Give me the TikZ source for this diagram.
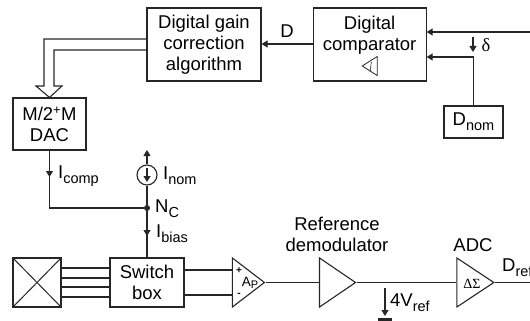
\documentclass[tikz,border=0pt]{standalone}
\usepackage{fontspec}
\setmainfont{Liberation Sans}
\newfontfamily\greekfont{Liberation Serif}
\usetikzlibrary{positioning,shapes.geometric,arrows.meta,calc}
\newcommand{\lowtext}[1]{\raisebox{-0.28em}{\fontsize{14.5}{14.5}\selectfont #1}}

\begin{document}
\begin{tikzpicture}[
    x=1pt, y=-1pt,
    % blocks and amplifiers
    box/.style={rectangle, draw=black!85, line width=1.1pt, inner sep=0pt, align=center,
                font=\fontsize{18.5}{21}\selectfont},
    amp/.style={isosceles triangle, isosceles triangle stretches, shape border rotate=0,
                draw=black!85, line width=1.1pt, inner sep=0pt, minimum width=49pt},
    lbl/.style={inner sep=0pt, font=\fontsize{18.5}{21}\selectfont},
    % wires
    wire/.style={line width=1.1pt, draw=black!85},
    arrow/.style={wire, -{Triangle[length=6pt,width=7pt]}},
    node distance=51pt
]
\useasboundingbox (0,0) rectangle (530,321);

% Top row
\node[box, minimum width=114pt, minimum height=73pt] (gain) at (204,44.5) {Digital gain\\correction\\algorithm};
\node[box, minimum width=113pt, minimum height=73pt, right=51pt of gain, text depth=22pt] (comp) {Digital\\comparator};
\node[box, minimum width=59pt, minimum height=32pt] (dnom) at (473.5,122) {D\lowtext{nom}};
\node[box, minimum width=73pt, minimum height=52pt] (dac) at (49.5,124) {M/2\textsuperscript{+}M\\DAC};

% small comparator symbol
\node[amp, minimum width=19pt, minimum height=15pt, shape border rotate=180, line width=0.8pt] (cmpsym) at (372,66) {};
\draw[wire, line width=0.6pt] (371.5,62) .. controls (370,66) and (371.5,69) .. (370,72);

% Bottom row
\node[box, minimum width=48pt, minimum height=49pt] (coil) at (37,282.5) {};
\node[box, minimum width=74pt, minimum height=49pt] (switch) at (147,282.5) {Switch\\box};
\node[amp, minimum height=32pt] (ap) at (244.5,282.5) {};
\node[amp, minimum height=36pt] (demod) at (332.5,282.5) {};
\node[amp, minimum height=37pt] (adc) at (470,282.5) {};

% Node N_C and current source
\node[circle, fill=black!85, inner sep=0pt, minimum size=6pt] (nc) at (147,208) {};
\node[circle, draw=black!85, line width=1.1pt, inner sep=0pt, minimum size=20pt] (inom) at (147,175) {};

% free ends
\coordinate (topin) at (530,32);
\coordinate (nomtop) at (147,150);
\coordinate (drefout) at (530,282.5);
\coordinate (deltatop) at (473,37);
\coordinate (deltaend) at (473,52);
\coordinate (vtop) at (385,288);
\coordinate (vend) at (385,316);
\node[rectangle, fill=black!85, inner sep=0pt, minimum width=14pt, minimum height=3pt] (vbar) at (385,319) {};

% Labels
\node[lbl] (dlabel) at (287,31) {D};
\node[lbl, anchor=west] (deltalabel) at (481.5,45) {\greekfont δ};
\node[lbl, anchor=west] (icomplabel) at (58,176) {I\lowtext{comp}};
\node[lbl, anchor=west] (inomlabel) at (163,176) {I\lowtext{nom}};
\node[lbl, anchor=west] (nclabel) at (155,209) {N\lowtext{C}};
\node[lbl, anchor=west] (ibiaslabel) at (156,234) {I\lowtext{bias}};
\node[lbl, align=center] (demodlabel) at (337,234.5) {Reference\\demodulator};
\node[lbl] (adclabel) at (473,245) {ADC};
\node[lbl, anchor=west] (dreflabel) at (502,268) {D\lowtext{ref}};
\node[lbl, anchor=west] (vlabel) at (390,303) {4V\lowtext{ref}};
\node[font=\fontsize{10}{10}\selectfont\bfseries, inner sep=0pt] (plus) at (239,271) {+};
\node[font=\fontsize{10}{10}\selectfont\bfseries, inner sep=0pt] (minus) at (239,294.5) {-};
\node[font=\fontsize{13.5}{13.5}\selectfont, inner sep=0pt] (aplabel) at (250,283) {A\raisebox{-0.2em}{\fontsize{11}{11}\selectfont P}};
\node[font=\fontsize{14}{14}\selectfont\greekfont, inner sep=0pt] (dslabel) at (472,283.5) {ΔΣ};

% Top connections
\draw[arrow] (comp.west |- 0,44) -- (gain.east |- 0,44);
\draw[arrow] (topin) -- (comp.east |- topin);
\draw[arrow] (dnom.north) |- (comp.east |- 0,57);
\draw[arrow] (deltatop) -- (deltaend);

% Hollow bus arrow
\draw[wire] (gain.west |- 0,39) -- (44,39) -- (44,86) -- (36,86) -- (dac.north) -- (62,86) -- (54,86) -- (54,50) -- (gain.west |- 0,50);

% Currents
\draw[wire] (dac.south) |- (nc);
\draw[arrow] (dac.south) -- (49.5,177);
\draw[arrow] (inom.north) -- (nomtop);
\draw[wire] (inom) -- (nc);
\draw[arrow] (147,168) -- (147,182);
\draw[wire] (nc) -- (switch.north);
\draw[arrow] (nc) -- (147,236);

% Sensor to switch box
\foreach \ypos in {268,278,287,297}
    \draw[wire] (coil.east |- 0,\ypos) -- (switch.west |- 0,\ypos);
\draw[wire, line width=1pt] (coil.north west) -- (coil.south east);
\draw[wire, line width=1pt] (coil.south west) -- (coil.north east);

% Signal path
\draw[wire] (switch.east |- 0,270) -- (ap.west |- 0,270);
\draw[wire] (switch.east |- 0,295) -- (ap.west |- 0,295);
\draw[wire] (ap.apex) -- (demod.west);
\draw[wire] (demod.apex) -- (adc.west);
\draw[wire] (adc.apex) -- (drefout);
\draw[arrow] (vtop) -- (vend);

\end{tikzpicture}
\end{document}
